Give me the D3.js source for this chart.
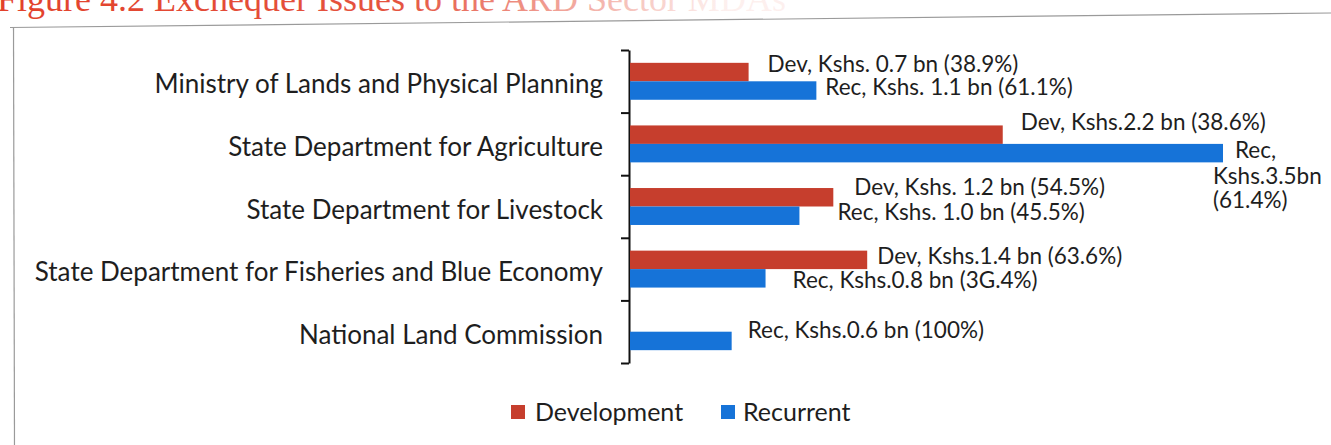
<!DOCTYPE html>
<html>
<head>
<meta charset="utf-8">
<script src="https://cdn.jsdelivr.net/npm/d3@7"></script>
<style>
  body { margin: 0; background: #fff; }
  svg { display: block; }
</style>
</head>
<body>
<div id="chart"></div>
<script>
// data
var categories = [
  "Ministry of Lands and Physical Planning",
  "State Department for Agriculture",
  "State Department for Livestock",
  "State Department for Fisheries and Blue Economy",
  "National Land Commission"
];
var series = ["Development", "Recurrent"];
var devValues = [0.7, 2.2, 1.2, 1.4, 0];
var recValues = [1.1, 3.5, 1.0, 0.8, 0.6];
var devLabels = [
  "Dev, Kshs. 0.7 bn (38.9%)",
  "Dev, Kshs.2.2 bn (38.6%)",
  "Dev, Kshs. 1.2 bn (54.5%)",
  "Dev, Kshs.1.4 bn (63.6%)",
  ""
];
var recLabels = [
  ["Rec, Kshs. 1.1 bn (61.1%)"],
  ["Rec,", "Kshs.3.5bn", "(61.4%)"],
  ["Rec, Kshs. 1.0 bn (45.5%)"],
  ["Rec, Kshs.0.8 bn (3G.4%)"],
  ["Rec, Kshs.0.6 bn (100%)"]
];

// label nudges (dx from bar end, dy of baseline from bar centre) - labels were hand placed
var devNudge = [[19, 0], [18, -5], [21, -2], [10, 4], [0, 0]];
var recNudge = [[[9, 4.5]], [[12, 5], [-10, 31], [-10, 55]], [[38, 4]], [[27, 10]], [[16, -3]]];

var colors = { Development: "#c63e2d", Recurrent: "#1673d8" };

var svgWidth = 1331;
var svgHeight = 445;
var font = "Lato, 'Open Sans', sans-serif";

var svg = d3.select("#chart")
  .append("svg")
  .attr("width", svgWidth)
  .attr("height", svgHeight);

// clipped caption and the page frame
var grad = svg.append("defs").append("linearGradient")
  .attr("id", "fade")
  .attr("gradientUnits", "userSpaceOnUse")
  .attr("x1", 0).attr("x2", 800).attr("y1", 0).attr("y2", 0);
grad.append("stop").attr("offset", "0").attr("stop-color", "#e2412b").attr("stop-opacity", 1);
grad.append("stop").attr("offset", "0.5").attr("stop-color", "#e2412b").attr("stop-opacity", 0.9);
grad.append("stop").attr("offset", "0.9").attr("stop-color", "#e2412b").attr("stop-opacity", 0.08);

svg.append("text")
  .attr("x", -3)
  .attr("y", 11)
  .attr("font-family", "'Liberation Serif', serif")
  .attr("font-size", 36)
  .attr("fill", "url(#fade)")
  .text("Figure 4.2 Exchequer Issues to the ARD Sector MDAs");

svg.append("line")
  .attr("x1", 10).attr("y1", 27.5)
  .attr("x2", 1331).attr("y2", 13)
  .attr("stroke", "#9a9a9a").attr("stroke-width", 1.2);
svg.append("line")
  .attr("x1", 13.5).attr("y1", 27)
  .attr("x2", 14.5).attr("y2", 445)
  .attr("stroke", "#9a9a9a").attr("stroke-width", 1.2);

// scales
var axisX = 629;
var yTop = 50, yBottom = 363;

var x = d3.scaleLinear()
  .domain([0, 3.5])
  .range([axisX + 1, 1223]);

var y = d3.scaleBand()
  .domain(categories)
  .range([yTop, yBottom])
  .paddingInner(0.41)
  .paddingOuter(0.205);

var ySub = d3.scaleBand()
  .domain(series)
  .range([0, y.bandwidth()]);

// category axis with ticks between categories
var yEdges = d3.scaleLinear().domain([0, categories.length]).range([yTop, yBottom]);
var leftAxis = d3.axisLeft(yEdges)
  .tickValues(d3.range(categories.length + 1))
  .tickSize(8)
  .tickSizeOuter(0)
  .tickFormat("");

var axisG = svg.append("g")
  .attr("transform", `translate(${axisX}, 0)`)
  .call(leftAxis);
axisG.select(".domain").attr("stroke", "#111").attr("stroke-width", 2);
axisG.selectAll(".tick line").attr("stroke", "#111").attr("stroke-width", 2);

svg.selectAll(".cat")
  .data(categories)
  .enter()
  .append("text")
  .attr("class", "cat")
  .attr("x", 603)
  .attr("y", d => y(d) + y.bandwidth() / 2 + 12)
  .attr("text-anchor", "end")
  .attr("font-family", font)
  .attr("font-size", 26)
  .attr("fill", "#1e1e1e")
  .text(d => d);

// bars
var rows = categories.map(function(c, i) {
  return { cat: c, dev: devValues[i], rec: recValues[i], i: i };
});

svg.selectAll(".dev")
  .data(rows.filter(d => d.dev > 0))
  .enter()
  .append("rect")
  .attr("class", "dev")
  .attr("x", x(0))
  .attr("y", d => y(d.cat) + ySub("Development"))
  .attr("width", d => x(d.dev) - x(0))
  .attr("height", ySub.bandwidth())
  .attr("fill", colors.Development);

svg.selectAll(".rec")
  .data(rows)
  .enter()
  .append("rect")
  .attr("class", "rec")
  .attr("x", x(0))
  .attr("y", d => y(d.cat) + ySub("Recurrent"))
  .attr("width", d => x(d.rec) - x(0))
  .attr("height", ySub.bandwidth())
  .attr("fill", colors.Recurrent);

// data labels
svg.selectAll(".devlab")
  .data(rows.filter(d => d.dev > 0))
  .enter()
  .append("text")
  .attr("class", "devlab")
  .attr("x", d => x(d.dev) + devNudge[d.i][0])
  .attr("y", d => y(d.cat) + ySub("Development") + ySub.bandwidth() / 2 + devNudge[d.i][1])
  .attr("font-family", font)
  .attr("font-size", 22.5)
  .attr("fill", "#1e1e1e")
  .text(d => devLabels[d.i]);

rows.forEach(function(d) {
  var cy = y(d.cat) + ySub("Recurrent") + ySub.bandwidth() / 2;
  recLabels[d.i].forEach(function(line, k) {
    svg.append("text")
      .attr("class", "reclab")
      .attr("x", x(d.rec) + recNudge[d.i][k][0])
      .attr("y", cy + recNudge[d.i][k][1])
      .attr("font-family", font)
      .attr("font-size", 22.5)
      .attr("fill", "#1e1e1e")
      .text(line);
  });
});

// legend
var legend = svg.append("g").attr("transform", "translate(511, 405)");
var legendX = [0, 210];
series.forEach(function(s, i) {
  var g = legend.append("g").attr("transform", `translate(${legendX[i]}, 0)`);
  g.append("rect")
    .attr("width", 14).attr("height", 14)
    .attr("fill", colors[s]);
  g.append("text")
    .attr("x", i === 0 ? 24 : 22)
    .attr("y", 16)
    .attr("font-family", font)
    .attr("font-size", 25)
    .attr("fill", "#1e1e1e")
    .text(s);
});
</script>
</body>
</html>
